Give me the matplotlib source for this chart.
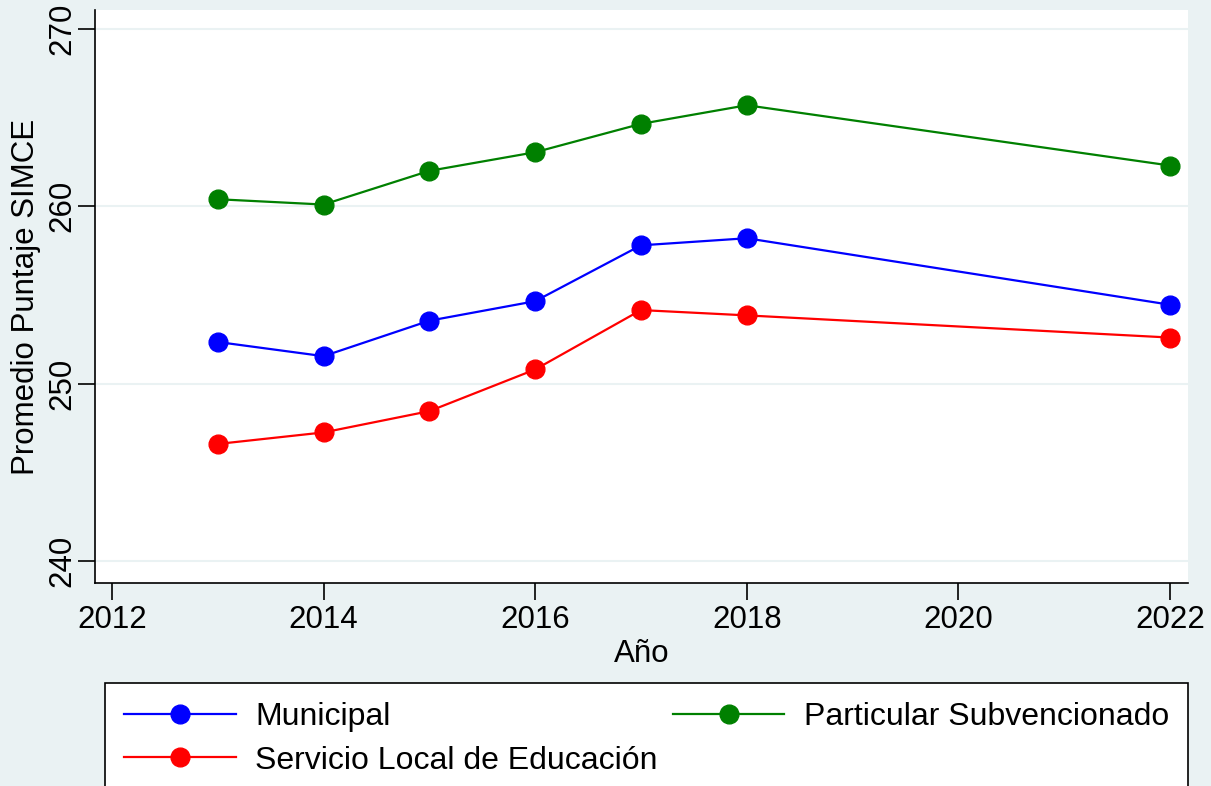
import matplotlib
matplotlib.use("Agg")
import matplotlib.pyplot as plt

years = [2013, 2014, 2015, 2016, 2017, 2018, 2022]
municipal = [252.35, 251.55, 253.55, 254.65, 257.8, 258.2, 254.45]
particular = [260.4, 260.1, 262.0, 263.05, 264.65, 265.7, 262.3]
slep = [246.6, 247.25, 248.45, 250.8, 254.15, 253.85, 252.6]

series_names = ["Municipal", "Servicio Local de Educación", "Particular Subvencionado"]
series_colors = ["#0000ff", "#ff0000", "#008000"]
xticks = [2012, 2014, 2016, 2018, 2020, 2022]
yticks = [240, 250, 260, 270]

plt.rcParams['font.family'] = ['Liberation Sans', 'DejaVu Sans']
bg = "#eaf2f3"

fig = plt.figure(figsize=(12.11, 7.86), dpi=100, facecolor=bg)
ax = fig.add_axes([95/1211, 1-583/786, (1188-95)/1211, (583-10)/786])
ax.set_facecolor("white")

data = [municipal, slep, particular]
handles = []
for vals, name, col in zip(data, series_names, series_colors):
    h, = ax.plot(years, vals, color=col, lw=1.6, marker="o", markersize=13.5,
                 markeredgecolor=col, markerfacecolor=col, label=name, zorder=3)
    handles.append(h)

ax.set_xlim(2011.84, 2022.17)
ax.set_ylim(238.76, 271.07)
ax.set_xticks(xticks)
ax.set_yticks(yticks)
ax.set_xticklabels([str(t) for t in xticks], fontsize=22.5)
ax.set_yticklabels([str(t) for t in yticks], fontsize=22.5, rotation=90, va="center")
ax.tick_params(axis="both", direction="out", length=12, width=1.2, color="black")
ax.tick_params(axis="x", pad=4)
ax.tick_params(axis="y", pad=1)
ax.grid(axis="y", color=bg, lw=1.5, zorder=0)
ax.grid(axis="x", visible=False)
for s in ["top", "right"]:
    ax.spines[s].set_visible(False)
for s in ["left", "bottom"]:
    ax.spines[s].set_color("black")
    ax.spines[s].set_linewidth(1.2)

ax.set_xlabel("Año", fontsize=22.5, labelpad=3)
ax.set_ylabel("Promedio Puntaje SIMCE", fontsize=22.5, labelpad=4)

leg = fig.legend(handles=handles, labels=series_names, ncol=2,
                 loc="upper left", mode="expand",
                 bbox_to_anchor=(105/1211, -0.2, (1188-105)/1211, 0.2 + 1-683/786),
                 fontsize=23, frameon=True, fancybox=False, edgecolor="black",
                 facecolor="white", framealpha=1.0, handlelength=3.5, handletextpad=0.6,
                 borderpad=0.6, labelspacing=0.42, columnspacing=1.0,
                 borderaxespad=0.0)
leg.get_frame().set_linewidth(1.2)

fig.savefig("out.png", dpi=100, facecolor=bg)
